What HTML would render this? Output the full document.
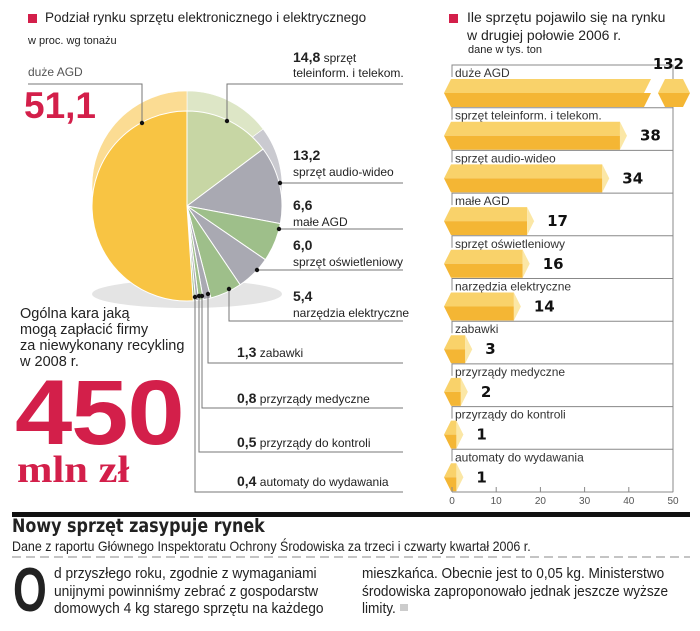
<!DOCTYPE html>
<html><head><meta charset="utf-8">
<style>
body{margin:0;background:#fff;width:700px;height:631px;overflow:hidden;position:relative;font-family:"Liberation Sans",sans-serif;color:#222}
.a{position:absolute;white-space:nowrap}
.nar{font-family:"Liberation Sans",sans-serif;transform-origin:left top}
</style></head><body>
<svg width="700" height="631" style="position:absolute;left:0;top:0">
<g id="pie"></g>
<g id="leaders"></g>
<g id="bars"></g>
<rect x="12" y="512" width="678" height="5" fill="#111"/>
<line x1="12" y1="557" x2="690" y2="557" stroke="#888" stroke-dasharray="9,5"/>
<rect x="28" y="14" width="9" height="9" fill="#d31f4a"/>
<rect x="449" y="14" width="9" height="9" fill="#d31f4a"/>
<rect x="400" y="604" width="8" height="7" fill="#ccc"/>
</svg>

<div class="a" style="left:45px;top:10px;font-size:13.5px">Podział rynku sprzętu elektronicznego i elektrycznego</div>
<div class="a" style="left:28px;top:35px;font-size:11px">w proc. wg tonażu</div>
<div class="a" style="left:28px;top:65px;font-size:12px;color:#555">duże AGD</div>
<div class="a" style="left:24px;top:85px;font-size:37px;font-weight:bold;color:#d31f4a">51,1</div>

<div class="a" style="left:293px;top:50px;font-size:12px;line-height:15px"><b style="font-size:14px">14,8</b> sprzęt<br>teleinform. i telekom.</div>
<div class="a" style="left:293px;top:147px;font-size:12px;line-height:16px"><b style="font-size:14px">13,2</b><br>sprzęt audio-wideo</div>
<div class="a" style="left:293px;top:197px;font-size:12px;line-height:16px"><b style="font-size:14px">6,6</b><br>małe AGD</div>
<div class="a" style="left:293px;top:237px;font-size:12px;line-height:16px"><b style="font-size:14px">6,0</b><br>sprzęt oświetleniowy</div>
<div class="a" style="left:293px;top:288px;font-size:12px;line-height:16px"><b style="font-size:14px">5,4</b><br>narzędzia elektryczne</div>
<div class="a" style="left:237px;top:344px;font-size:12px"><b style="font-size:14px">1,3</b> zabawki</div>
<div class="a" style="left:237px;top:390px;font-size:12px"><b style="font-size:14px">0,8</b> przyrządy medyczne</div>
<div class="a" style="left:237px;top:434px;font-size:12px"><b style="font-size:14px">0,5</b> przyrządy do kontroli</div>
<div class="a" style="left:237px;top:473px;font-size:12px"><b style="font-size:14px">0,4</b> automaty do wydawania</div>

<div class="a" style="left:20px;top:306px;font-size:14.5px;line-height:16px">Ogólna kara jaką<br>mogą zapłacić firmy<br>za niewykonany recykling<br>w 2008 r.</div>
<div class="a" style="left:15px;top:368px;font-size:92px;font-weight:900;color:#d31f4a;letter-spacing:-1px;line-height:90px;transform:scaleX(1.12);transform-origin:left top">450</div>
<div class="a" style="left:17px;top:448px;font-size:38px;font-weight:bold;color:#d31f4a;font-family:'Liberation Serif',serif;transform:scaleX(1.12);transform-origin:left top">mln zł</div>

<div class="a" style="left:467px;top:8px;font-size:14px;line-height:18px">Ile sprzętu pojawilo się na rynku<br>w drugiej połowie 2006 r.</div>
<div class="a" style="left:468px;top:44px;font-size:11px">dane w tys. ton</div>

<div class="a" style="left:12px;top:515px;font-size:19px;font-weight:bold;font-family:'DejaVu Sans',sans-serif;transform:scaleX(0.84);transform-origin:left top">Nowy sprzęt zasypuje rynek</div>
<div class="a nar" style="left:12px;top:538px;font-size:14px;transform:scaleX(0.89)">Dane z raportu Głównego Inspektoratu Ochrony Środowiska za trzeci i czwarty kwartał 2006 r.</div>
<div class="a" style="left:13px;top:560px;font-size:62px;font-weight:bold;line-height:62px;transform:scaleX(0.7);transform-origin:left">O</div>
<div class="a nar" style="left:54px;top:566px;font-size:14.5px;line-height:17.5px;transform:scaleX(0.95)">d przyszłego roku, zgodnie z wymaganiami<br>unijnymi powinniśmy zebrać z gospodarstw<br>domowych 4 kg starego sprzętu na każdego</div>
<div class="a nar" style="left:362px;top:566px;font-size:14.5px;line-height:17.5px;transform:scaleX(0.94)">mieszkańca. Obecnie jest to 0,05 kg. Ministerstwo<br>środowiska zaproponowało jednak jeszcze wyższe<br>limity.</div>

<script>
const NS="http://www.w3.org/2000/svg";
const pieCats=["sprzęt teleinform. i telekom.","sprzęt audio-wideo","małe AGD","sprzęt oświetleniowy","narzędzia elektryczne","zabawki","przyrządy medyczne","przyrządy do kontroli","automaty do wydawania","duże AGD"];
const pieValues=[14.8,13.2,6.6,6.0,5.4,1.3,0.8,0.5,0.4,51.1];
const pieColors=["#c7d6a4","#a9a9b2","#9ebf8a","#a9a9b2","#9ebf8a","#a9a9b2","#9ebf8a","#a9a9b2","#9ebf8a","#f8c443"];
const pieBack=["#dde6c6","#cacad0","#c4d8b6","#cacad0","#c4d8b6","#cacad0","#c4d8b6","#cacad0","#c4d8b6","#fbdc93"];
const barCats=["duże AGD","sprzęt teleinform. i telekom.","sprzęt audio-wideo","małe AGD","sprzęt oświetleniowy","narzędzia elektryczne","zabawki","przyrządy medyczne","przyrządy do kontroli","automaty do wydawania"];
const barValues=[132,38,34,17,16,14,3,2,1,1];
const xTicks=[0,10,20,30,40,50];

function mk(tag,attrs,parent){const e=document.createElementNS(NS,tag);for(const k in attrs)e.setAttribute(k,attrs[k]);parent.appendChild(e);return e;}
const pie=document.getElementById('pie');
const cx=187,cy=206,r=95;
const total=pieValues.reduce((a,b)=>a+b,0);
function pt(a,rr,yc){return [cx+rr*Math.sin(a),yc-rr*Math.cos(a)];}
function arc(a0,a1,yc){const p0=pt(a0,r,yc),p1=pt(a1,r,yc);const lg=(a1-a0)>Math.PI?1:0;return `M${cx},${yc}L${p0[0]},${p0[1]}A${r},${r} 0 ${lg} 1 ${p1[0]},${p1[1]}Z`;}
const sh=mk('ellipse',{cx:cx,cy:cy+88,rx:95,ry:14,fill:'#e4e4e4'},pie);


[[-20,pieBack],[0,pieColors]].forEach(([dy,cols],layer)=>{
  let a=0;
  pieValues.forEach((v,i)=>{
    const a1=a+v/total*2*Math.PI;
    const p=mk('path',{d:arc(a,a1,cy+dy),fill:cols[i],stroke:'#fff','stroke-width':layer?1:0.6},pie);
    
    
    a=a1;
  });
});
const L=document.getElementById('leaders');
const leaders=[[227,121,"M227,121V84H403"],[280,183,"M280,183H403"],[279,229,"M279,229H403"],[257,270,"M257,270H403"],[229,289,"M229,289V321H403"],[208,294,"M208,294V363H403"],[202,296,"M202,296V408H403"],[199,296,"M199,296V452H403"],[195,297,"M195,297V492H403"],[142,123,"M142,123V84H28"]];
leaders.forEach(l=>{
  const p=mk('path',{d:l[2],fill:'none',stroke:'#777','stroke-width':1},L);
  
  
  const c=mk('circle',{cx:l[0],cy:l[1],r:2.2,fill:'#111'},L);
  
  
});
const B=document.getElementById('bars');
const x0=452,x1=673,maxV=50;
const xs=v=>x0+(v/maxV)*(x1-x0);
const rowTop=i=>65+i*42.7;
barCats.forEach((c,i)=>{
  const t=rowTop(i);
  const ln=mk('path',{d:`M${x0},${t+12}V${t}H${x1}V${t+43}`,fill:'none',stroke:'#888','stroke-width':1},B);
  
  
  const tx=mk('text',{x:x0+3,y:t+12,'font-size':12,fill:'#333','font-family':'Liberation Sans, sans-serif'},B);
  tx.textContent=c;
  
  
  const v=barValues[i];
  const broken=v>maxV;
  const xe=broken?651:xs(v);
  const yT=t+14,yM=t+28,yB=t+42,L0=444;
  const g=mk('g',{},B);
  
  
  mk('path',{d:`M${L0},${yM}L${L0+7},${yT}H${xe}L${xe+(broken?-7:0)},${yM}Z`,fill:'#f9d26a'},g);
  mk('path',{d:`M${L0},${yM}L${L0+7},${yB}H${xe+(broken?-7:0)}L${xe},${yM}Z`,fill:'#f4b634'},g);
  if(broken){
    mk('path',{d:`M665,${yT}H683L690,${yM}H658Z`,fill:'#f9d26a'},g);
    mk('path',{d:`M658,${yM}H690L683,${yB}H665Z`,fill:'#f4b634'},g);
  } else {
    mk('path',{d:`M${xe},${yT}L${xe+7},${yM}L${xe},${yB}Z`,fill:'#fbe7a6'},g);
  }
  const vt=mk('text',{x:broken?684:xe+20,y:broken?t+4:yM+5,'font-size':15,'font-weight':'bold',fill:'#111','text-anchor':broken?'end':'start','font-family':'DejaVu Sans, sans-serif'},B);
  vt.textContent=v;
  
  
});
const ax=mk('line',{x1:x0,y1:492,x2:x1,y2:492,stroke:'#888'},B);


xTicks.forEach(v=>{
  const tk=mk('line',{x1:xs(v),y1:487,x2:xs(v),y2:492,stroke:'#888'},B);
  
  
  const tl=mk('text',{x:xs(v),y:504,'font-size':10,'text-anchor':'middle',fill:'#555','font-family':'Liberation Sans, sans-serif'},B);
  tl.textContent=v;
  
  
});
</script>
</body></html>
